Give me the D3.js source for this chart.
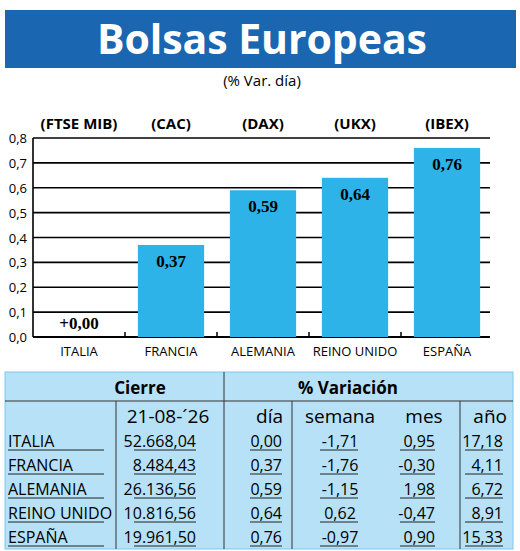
<!DOCTYPE html>
<html><head><meta charset="utf-8">
<script src="https://cdn.jsdelivr.net/npm/d3@7"></script>
<style>body{margin:0;background:#fff}svg{display:block}</style>
</head><body>
<script>
const countries=["ITALIA","FRANCIA","ALEMANIA","REINO UNIDO","ESPAÑA"];
const indices=["(FTSE MIB)","(CAC)","(DAX)","(UKX)","(IBEX)"];
const dayVar=[0.00,0.37,0.59,0.64,0.76];
const dayLabels=["+0,00","0,37","0,59","0,64","0,76"];
const yTicks=[0,0.1,0.2,0.3,0.4,0.5,0.6,0.7,0.8];
const cierre=["52.668,04","8.484,43","26.136,56","10.816,56","19.961,50"];
const dia=["0,00","0,37","0,59","0,64","0,76"];
const semana=["-1,71","-1,76","-1,15","0,62","-0,97"];
const mes=["0,95","-0,30","1,98","-0,47","0,90"];
const anio=["17,18","4,11","6,72","8,91","15,33"];
const colHeads=["","21-08-´26","día","semana","mes","año"];

const svg=d3.select("body").append("svg").attr("width",520).attr("height",551);
const sans="'Liberation Sans Narrow','Open Sans',sans-serif";
svg.append("rect").attr("x",5).attr("y",10).attr("width",511).attr("height",58).attr("fill","#1a66b0");
svg.append("text").attr("x",262).attr("y",54).attr("text-anchor","middle").attr("fill","#fff")
 .attr("font-family","'Open Sans',sans-serif").attr("font-weight","bold").attr("font-size",41).attr("textLength",330).text("Bolsas Europeas");
svg.append("text").attr("x",262).attr("y",86).attr("text-anchor","middle").attr("font-family",sans).attr("font-size",15).text("(% Var. día)");

const x=d3.scaleBand().domain(countries).range([33,493]).paddingInner(0.28).paddingOuter(0.14);
const y=d3.scaleLinear().domain([0,0.8]).range([337,138]);
const g=svg.append("g");
g.selectAll(".grid").data(yTicks).join("line").attr("x1",33).attr("x2",490).attr("y1",d=>y(d)).attr("y2",d=>y(d)).attr("stroke","#000").attr("stroke-width",1.6);
g.append("line").attr("x1",33).attr("x2",33).attr("y1",y(0.8)).attr("y2",y(0)).attr("stroke","#000").attr("stroke-width",1.6);
g.append("line").attr("x1",33).attr("x2",490).attr("y1",y(0)).attr("y2",y(0)).attr("stroke","#000").attr("stroke-width",2.2);
const step=x.step();
g.selectAll(".tk").data(countries.slice(1)).join("line").attr("x1",d=>x(d)-step*x.paddingInner()/2).attr("x2",d=>x(d)-step*x.paddingInner()/2).attr("y1",y(0)).attr("y2",y(0)-5).attr("stroke","#000").attr("stroke-width",1.5);
g.selectAll(".yl").data(yTicks).join("text").attr("x",27).attr("y",d=>y(d)+5).attr("text-anchor","end").attr("font-family",sans).attr("font-size",13).text(d=>d3.format(".1f")(d).replace(".",","));
g.selectAll(".bar").data(dayVar).join("rect").attr("x",(d,i)=>x(countries[i])).attr("width",x.bandwidth()).attr("y",d=>y(d)).attr("height",d=>y(0)-y(d)).attr("fill","#2db3e8");
g.selectAll(".vl").data(dayVar).join("text").attr("x",(d,i)=>x(countries[i])+x.bandwidth()/2).attr("y",d=>d>0.05?y(d)+22:y(d)-8).attr("text-anchor","middle")
 .attr("font-family","'Liberation Serif',serif").attr("font-weight","bold").attr("font-size",17).text((d,i)=>dayLabels[i]);
g.selectAll(".cl").data(countries).join("text").attr("x",d=>x(d)+x.bandwidth()/2).attr("y",356).attr("text-anchor","middle").attr("font-family",sans).attr("font-size",13).text(d=>d);
g.selectAll(".il").data(indices).join("text").attr("x",(d,i)=>x(countries[i])+x.bandwidth()/2).attr("y",129).attr("text-anchor","middle").attr("font-family",sans).attr("font-weight","bold").attr("font-size",15).text(d=>d);

// table
const t=svg.append("g");
const cols=[5,116,224,292,388,460,513];
t.append("rect").attr("x",5).attr("y",372).attr("width",508).attr("height",177).attr("fill","#b6e1f6").attr("stroke","#7cc7ea");
t.append("line").attr("x1",5).attr("x2",513).attr("y1",401).attr("y2",401).attr("stroke","#333");
t.append("line").attr("x1",224).attr("x2",224).attr("y1",372).attr("y2",549).attr("stroke","#333");
[116,292,460].forEach(c=>t.append("line").attr("x1",c).attr("x2",c).attr("y1",401).attr("y2",549).attr("stroke","#333"));
const tf="'Liberation Sans Narrow','Open Sans',sans-serif";
t.append("text").attr("x",140).attr("y",394).attr("text-anchor","middle").attr("font-family",tf).attr("font-weight","bold").attr("font-size",17).text("Cierre");
t.append("text").attr("x",348).attr("y",394).attr("text-anchor","middle").attr("font-family",tf).attr("font-weight","bold").attr("font-size",17).text("% Variación");
const hx=[0,190,283,346,424,507];
colHeads.forEach((h,i)=>{ if(!h)return; t.append("text").attr("x",i==1?168:i==3?340:i==4?424:hx[i]).attr("y",423).attr("text-anchor",i==1||i==3||i==4?"middle":"end").attr("font-family",tf).attr("font-size",19).text(h);});
const rows=countries.map((c,i)=>[c,cierre[i],dia[i],semana[i],mes[i],anio[i]]);
const rowY=i=>447+i*24;
rows.forEach((r,i)=>{
  const yy=rowY(i);
  const cells=[[8,"start",r[0]],[196,"end",r[1]],[282,"end",r[2]],[340,"middle",r[3]],[435,"end",r[4]],[503,"end",r[5]]];
  cells.forEach(([cx,a,txt])=>t.append("text").attr("x",cx).attr("y",yy).attr("text-anchor",a).attr("font-family",tf).attr("font-size",16).text(txt));
  [[8,104],[134,196],[250,282],[320,358],[400,435],[465,503]].forEach(([a,b])=>t.append("line").attr("x1",a).attr("x2",b).attr("y1",yy+3).attr("y2",yy+3).attr("stroke","#222"));
});
</script>
</body></html>
